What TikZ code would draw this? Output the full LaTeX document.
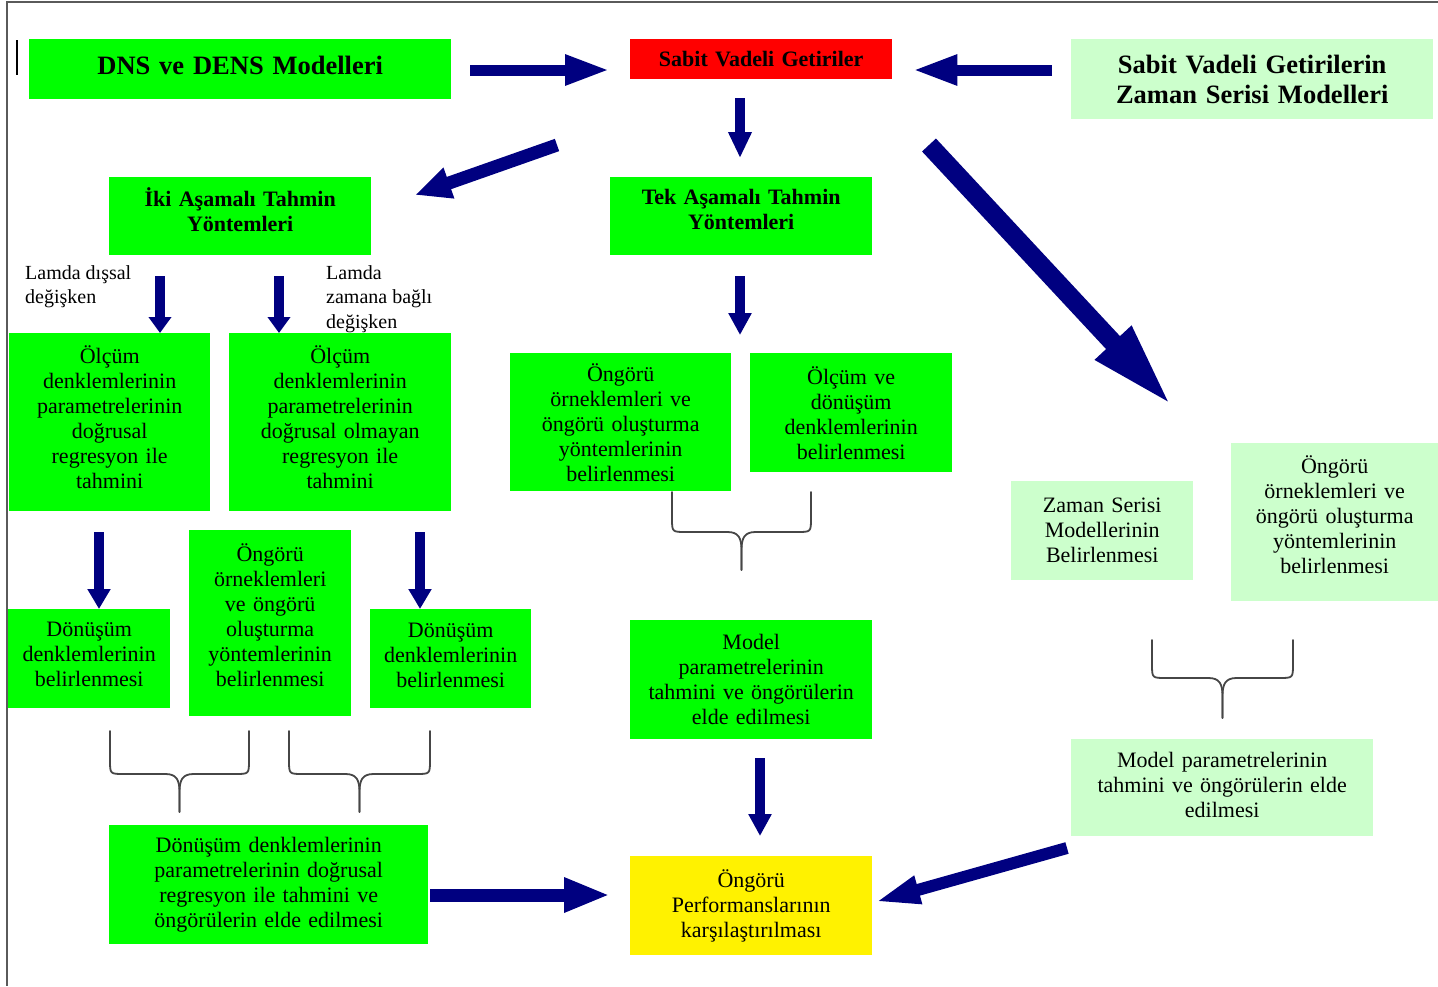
\documentclass[tikz,border=0pt]{standalone}
\usepackage{fontspec}
\setmainfont{Liberation Serif}
\usetikzlibrary{arrows.meta}
\definecolor{navyb}{RGB}{0,0,128}
\definecolor{brgreen}{RGB}{0,255,0}
\definecolor{ltgreen}{RGB}{204,255,204}
\definecolor{bracegray}{RGB}{70,70,70}
\definecolor{framegray}{RGB}{90,90,90}
\newcommand\dpfix[1]{\rule[-#1pt]{0pt}{#1pt}}
\newcommand\mybrace[5]{%
  \pgfmathsetmacro\bracecx{(#1+#2)/2}%
  \draw[bracepath] (#1,#3) -- (#1,#4-14) .. controls (#1,#4) .. (#1+14,#4) -- (\bracecx-14,#4) .. controls (\bracecx-3,#4) and (\bracecx,#4+6) .. (\bracecx,#4+18) -- (\bracecx,#5);
  \draw[bracepath] (#2,#3) -- (#2,#4-14) .. controls (#2,#4) .. (#2-14,#4) -- (\bracecx+14,#4) .. controls (\bracecx+3,#4) and (\bracecx,#4+6) .. (\bracecx,#4+18) -- (\bracecx,#5);
}
\begin{document}
\begin{tikzpicture}[x=1pt,y=-1pt,
  box/.style={anchor=north west, inner sep=0pt, align=center, font=\fontsize{22}{25}\selectfont},
  gbox/.style={box, fill=brgreen},
  lbox/.style={box, fill=ltgreen},
  btitle/.style={font=\bfseries\fontsize{#1}{25}\selectfont},
  lbl/.style={anchor=north west, inner sep=0pt, align=left, font=\fontsize{20}{24.5}\selectfont},
  barrow/.style n args={3}{draw=navyb, line width=#1, -{Triangle[length=#2,width=#3]}},
  bracepath/.style={draw=bracegray, line width=1.8pt, line cap=round},
]
\useasboundingbox (0,0) rectangle (1438,986);
\fill[white] (0,0) rectangle (1438,986);
% frame
\draw[framegray, line width=1.3pt] (1438,2) -- (7,2) -- (7,986);
\draw[black, line width=2pt] (17,40) -- (17,75);

% boxes
\node[gbox, minimum width=422pt, text width=422pt, minimum height=60pt, btitle=26.5] (dns) at (29,39) {DNS ve DENS Modelleri\dpfix{8}};
\node[box, fill=red, minimum width=262pt, text width=262pt, minimum height=40pt, btitle=22] (svg) at (630,39) {Sabit Vadeli Getiriler};
\node[lbox, minimum width=362pt, text width=362pt, minimum height=80pt, font=\bfseries\fontsize{26.5}{30}\selectfont] (zsm) at (1071,39) {Sabit Vadeli Getirilerin\\Zaman Serisi Modelleri};
\node[gbox, minimum width=262pt, text width=262pt, minimum height=78pt, btitle=22] (iki) at (109,177) {İki Aşamalı Tahmin\\Yöntemleri\dpfix{14}};
\node[gbox, minimum width=262pt, text width=262pt, minimum height=78pt, btitle=22] (tek) at (610,177) {Tek Aşamalı Tahmin\\Yöntemleri\dpfix{14}};
\node[gbox, minimum width=201pt, text width=201pt, minimum height=178pt] (olcl) at (9,333) {Ölçüm\\denklemlerinin\\parametrelerinin\\doğrusal\\regresyon ile\\tahmini\dpfix{10}};
\node[gbox, minimum width=222pt, text width=222pt, minimum height=178pt] (olcr) at (229,333) {Ölçüm\\denklemlerinin\\parametrelerinin\\doğrusal olmayan\\regresyon ile\\tahmini\dpfix{10}};
\node[gbox, minimum width=221pt, text width=221pt, minimum height=138pt] (ongc) at (510,353) {Öngörü\\örneklemleri ve\\öngörü oluşturma\\yöntemlerinin\\belirlenmesi};
\node[gbox, minimum width=202pt, text width=202pt, minimum height=119pt] (olcv) at (750,353) {Ölçüm ve\\dönüşüm\\denklemlerinin\\belirlenmesi};
\node[lbox, minimum width=182pt, text width=182pt, minimum height=99pt] (zsmb) at (1011,481) {Zaman Serisi\\Modellerinin\\Belirlenmesi};
\node[lbox, minimum width=207pt, text width=207pt, minimum height=158pt] (ongr) at (1231,443) {Öngörü\\örneklemleri ve\\öngörü oluşturma\\yöntemlerinin\\belirlenmesi\dpfix{15}};
\node[gbox, minimum width=162pt, text width=162pt, minimum height=99pt] (donl) at (8,609) {Dönüşüm\\denklemlerinin\\belirlenmesi\dpfix{8}};
\node[gbox, minimum width=162pt, text width=162pt, minimum height=186pt] (ongl) at (189,530) {Öngörü\\örneklemleri\\ve öngörü\\oluşturma\\yöntemlerinin\\belirlenmesi\dpfix{16}};
\node[gbox, minimum width=161pt, text width=161pt, minimum height=99pt] (donr) at (370,609) {Dönüşüm\\denklemlerinin\\belirlenmesi\dpfix{6}};
\node[gbox, minimum width=242pt, text width=242pt, minimum height=119pt] (modc) at (630,620) {Model\\parametrelerinin\\tahmini ve öngörülerin\\elde edilmesi};
\node[lbox, minimum width=302pt, text width=302pt, minimum height=97pt] (modr) at (1071,739) {Model parametrelerinin\\tahmini ve öngörülerin elde\\edilmesi\dpfix{6}};
\node[gbox, minimum width=319pt, text width=319pt, minimum height=119pt] (donb) at (109,825) {Dönüşüm denklemlerinin\\parametrelerinin doğrusal\\regresyon ile tahmini ve\\öngörülerin elde edilmesi};
\node[box, fill=yellow, minimum width=242pt, text width=242pt, minimum height=99pt] (perf) at (630,856) {Öngörü\\Performanslarının\\karşılaştırılması};

% labels
\node[lbl] (lab1) at (25,265) {Lamda dışsal\\değişken};
\node[lbl] (lab2) at (326,265) {Lamda\\zamana bağlı\\değişken};

% arrow coordinates
\coordinate (a1s) at (470,70);
\coordinate (a2s) at (1052,70);
\coordinate (c3) at (740,0);
\coordinate (a4s) at (557,145);
\coordinate (a4e) at (415,195);
\coordinate (a5s) at (929,145);
\coordinate (a5e) at (1173,407);
\coordinate (c6) at (160,0);
\coordinate (c7) at (279,0);
\coordinate (a8e) at (740,335);
\coordinate (c9) at (99,0);
\coordinate (c10) at (420,0);
\coordinate (c11) at (760,0);
\coordinate (c12) at (0,895);
\coordinate (a13s) at (1067,848);
\coordinate (a13e) at (875,902);

% arrows
\draw[barrow={11pt}{45pt}{28pt}, shorten >=20pt] (a1s) -- (a1s -| svg.west);
\draw[barrow={11pt}{45pt}{28pt}, shorten >=20pt] (a2s) -- (a2s -| svg.east);
\draw[barrow={10pt}{26pt}{22pt}, shorten <=19pt, shorten >=19pt] (svg.south -| c3) -- (tek.north -| c3);
\draw[barrow={13pt}{36pt}{30pt}] (a4s) -- (a4e);
\draw[barrow={19pt}{88pt}{44pt}] (a5s) -- (a5e);
\draw[barrow={10pt}{16pt}{22pt}, shorten <=21pt] (iki.south -| c6) -- (olcl.north -| c6);
\draw[barrow={10pt}{16pt}{22pt}, shorten <=21pt] (iki.south -| c7) -- (olcr.north -| c7);
\draw[barrow={10pt}{22pt}{22pt}, shorten <=21pt] (tek.south -| c3) -- (a8e);
\draw[barrow={10pt}{20pt}{22pt}, shorten <=21pt] (olcl.south -| c9) -- (donl.north -| c9);
\draw[barrow={10pt}{20pt}{22pt}, shorten <=21pt] (olcr.south -| c10) -- (donr.north -| c10);
\draw[barrow={10pt}{22pt}{22pt}, shorten <=19pt, shorten >=20pt] (modc.south -| c11) -- (perf.north -| c11);
\draw[barrow={13pt}{46pt}{32pt}, shorten <=2pt, shorten >=20pt] (donb.east |- c12) -- (perf.west |- c12);
\draw[barrow={12pt}{45pt}{26pt}] (a13s) -- (a13e);

% braces
\mybrace{672}{811}{492}{532}{570}
\mybrace{1152}{1293}{640}{678}{718}
\mybrace{110}{249}{731}{774}{812}
\mybrace{289}{430}{731}{774}{812}
\end{tikzpicture}
\end{document}
